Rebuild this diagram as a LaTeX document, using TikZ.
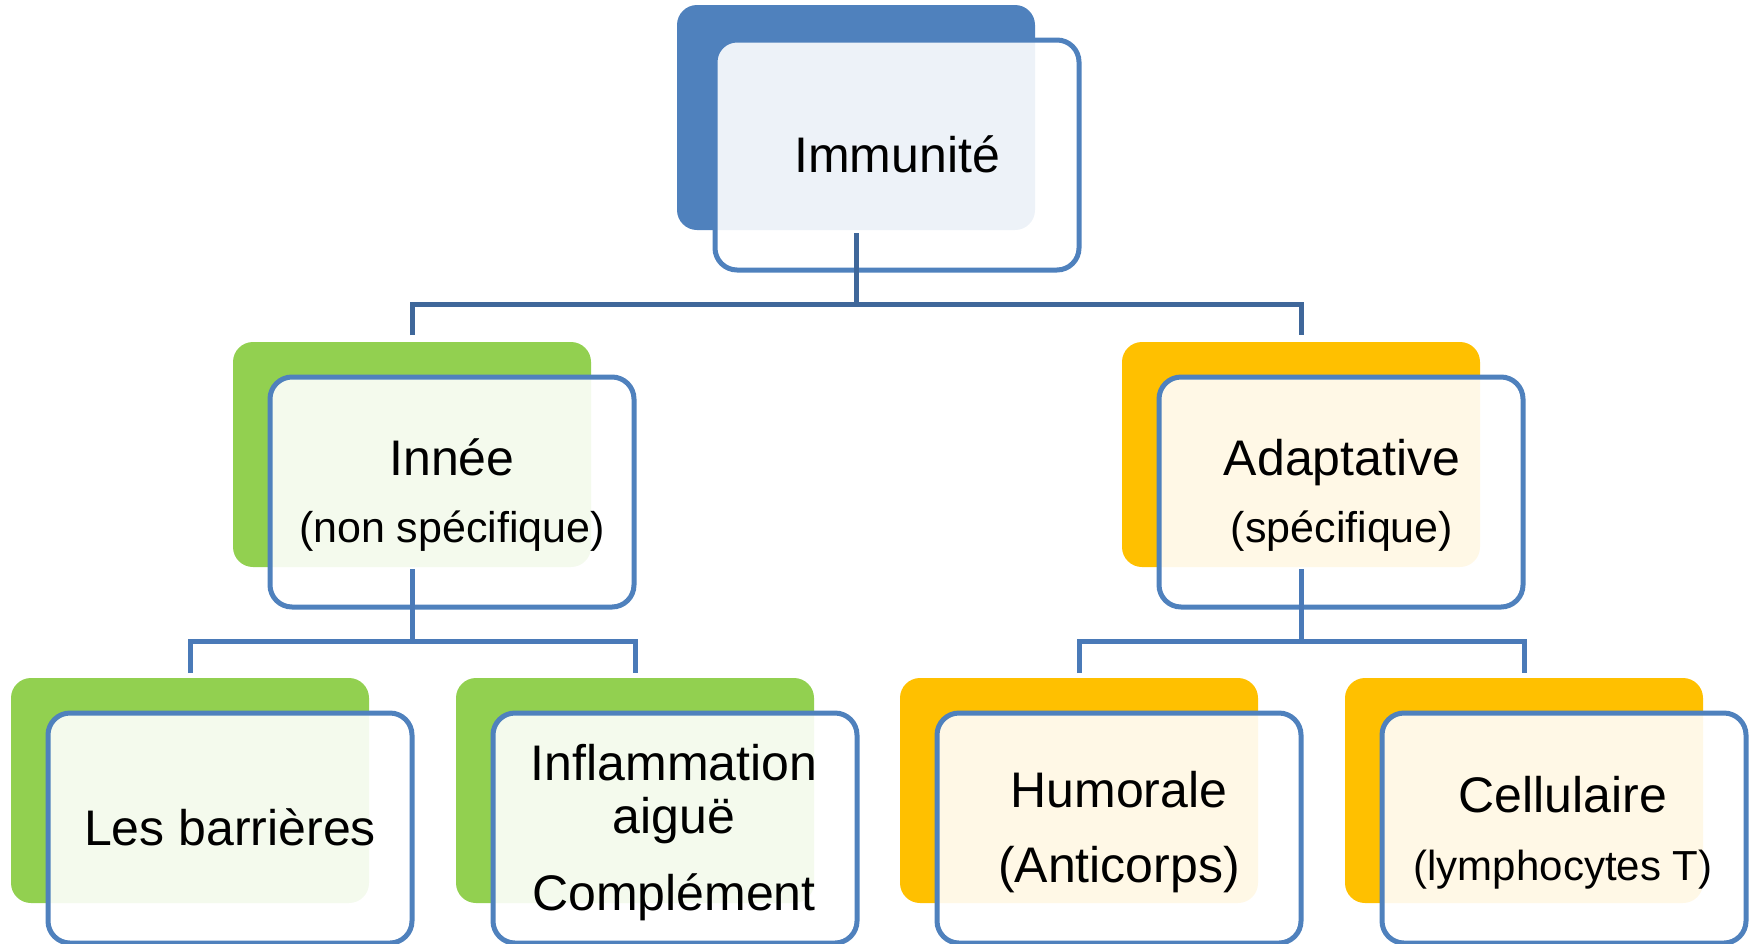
\documentclass[tikz,border=0pt]{standalone}
\usepackage{fontspec}
\setmainfont{Liberation Sans}
\definecolor{myblue}{HTML}{4F81BD}
\definecolor{mygreen}{HTML}{92D050}
\definecolor{myorange}{HTML}{FFC000}
\definecolor{connA}{HTML}{3F679A}
\definecolor{connB}{HTML}{4A7AB8}
\tikzset{
  fbox/.style={anchor=north west, draw=none, rounded corners=20pt, minimum width=358pt, minimum height=225pt, inner sep=0pt, outer sep=0pt},
  obox/.style={anchor=north west, draw=myblue, line width=5pt, fill=white, fill opacity=0.9, rounded corners=22pt, minimum width=364pt, minimum height=230pt, inner sep=0pt, outer sep=0pt},
  big/.style={anchor=base, inner sep=0pt, font=\fontsize{50}{60}\selectfont},
  small/.style={anchor=base, inner sep=0pt, font=\fontsize{43}{52}\selectfont},
  connone/.style={draw=connA, line width=5pt, line join=miter},
  conntwo/.style={draw=connB, line width=5pt, line join=miter}
}
\begin{document}
\begin{tikzpicture}[x=1pt,y=-1pt]
\useasboundingbox (0,0) rectangle (1752,943);
% level 0
\node[fbox, fill=myblue] (topF) at (677,5) {};
\node[obox] (topO) at (715,40) {};
\node[big] (topT) at (897,172) {Immunité};
% level 1
\node[fbox, fill=mygreen] (innF) at (233,342) {};
\node[obox] (innO) at (270,377) {};
\node[big] (innT1) at (452,475) {Innée};
\node[small] (innT2) at (452,542) {(non spécifique)};
\node[fbox, fill=myorange] (adaF) at (1122,342) {};
\node[obox] (adaO) at (1159,377) {};
\node[big] (adaT1) at (1342,475) {Adaptative};
\node[small] (adaT2) at (1342,542) {(spécifique)};
% level 2
\node[fbox, fill=mygreen] (barF) at (11,678) {};
\node[obox] (barO) at (48,713) {};
\node[big] (barT) at (230,845) {Les barrières};
\node[fbox, fill=mygreen] (infF) at (456,678) {};
\node[obox] (infO) at (493,713) {};
\node[big] (infT1) at (674,780) {Inflammation};
\node[big] (infT2) at (674,833) {aiguë};
\node[big] (infT3) at (674,910) {Complément};
\node[fbox, fill=myorange] (humF) at (900,678) {};
\node[obox] (humO) at (937,713) {};
\node[big] (humT1) at (1119,807) {Humorale};
\node[big] (humT2) at (1119,882) {(Anticorps)};
\node[fbox, fill=myorange] (celF) at (1345,678) {};
\node[obox] (celO) at (1382,713) {};
\node[big] (celT1) at (1563,812) {Cellulaire};
\node[small, font=\fontsize{42}{50}\selectfont] (celT2) at (1563,880) {(lymphocytes T)};
% connectors
\coordinate (busA) at (857,304);
\draw[connone] ([yshift=-3pt]topF.south) -- (topF.south |- busA);
\draw[connone] ([yshift=7pt]innF.north) |- (adaF.north |- busA) -- ([yshift=7pt]adaF.north);
\coordinate (busB) at (412,641);
\draw[conntwo] ([yshift=-2pt]innF.south) -- (innF.south |- busB);
\draw[conntwo] ([yshift=5pt]barF.north) |- (infF.north |- busB) -- ([yshift=5pt]infF.north);
\coordinate (busC) at (1301,641);
\draw[conntwo] ([yshift=-2pt]adaF.south) -- (adaF.south |- busC);
\draw[conntwo] ([yshift=5pt]humF.north) |- (celF.north |- busC) -- ([yshift=5pt]celF.north);
\end{tikzpicture}
\end{document}
